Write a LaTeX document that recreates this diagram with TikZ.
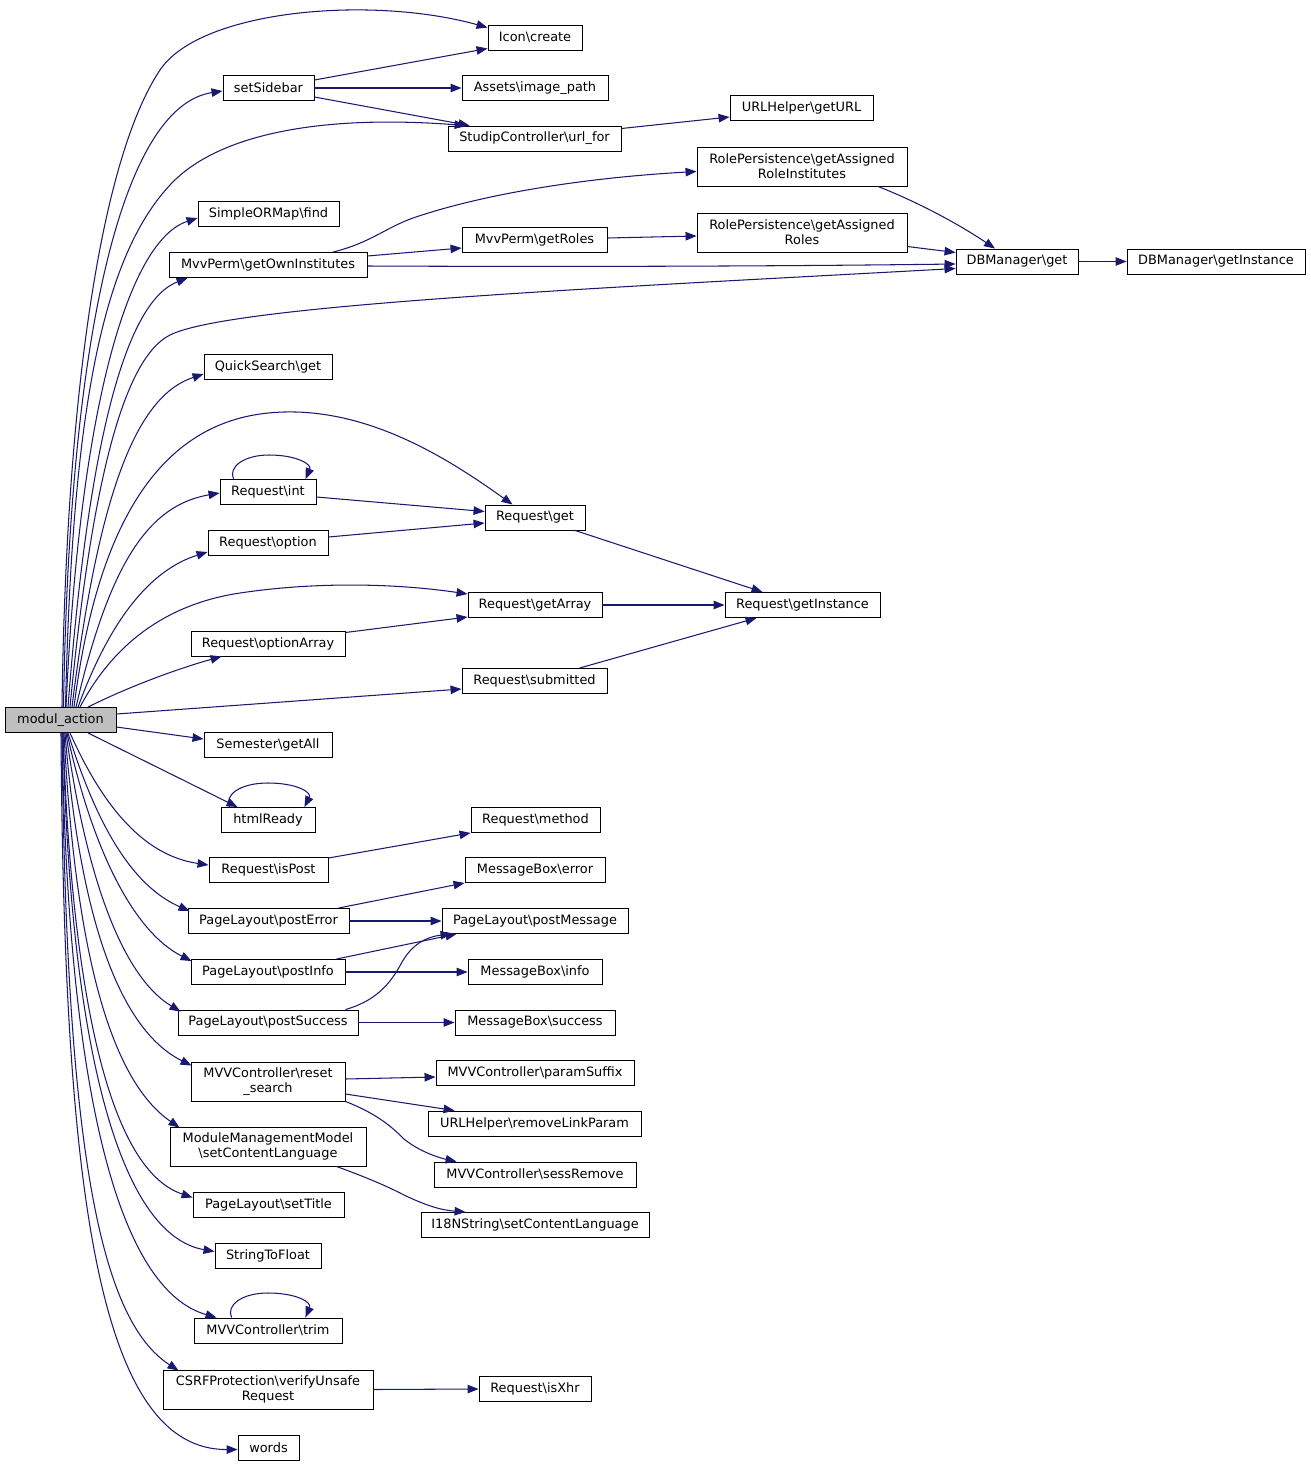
\documentclass[tikz,border=0pt]{standalone}
\usepackage{fontspec}
\setmainfont{DejaVu Sans}
\usetikzlibrary{arrows.meta}
\definecolor{edgeblue}{HTML}{191970}
\definecolor{rootgray}{HTML}{BFBFBF}
\newcommand{\bsx}{\textbackslash}
\begin{document}
\begin{tikzpicture}[x=1pt,y=-1pt,
  box/.style={draw=black, line width=0.9pt, fill=white, inner sep=0pt, minimum height=25pt, font=\fontsize{12.9}{15}\selectfont, align=center},
  tall/.style={minimum height=39pt},
  e/.style={draw=edgeblue, line width=1.05pt, -{Triangle[length=11pt,width=8.5pt]}},
]
\useasboundingbox (0,0) rectangle (1311,1467);
% nodes
\node[box, fill=rootgray, minimum width=111pt] (root) at (60.5,720) {modul\_action};
\node[box, minimum width=94pt] (icon) at (535,37.5) {Icon\bsx create};
\node[box, minimum width=91pt] (setsb) at (268.5,88) {setSidebar};
\node[box, minimum width=146pt] (assets) at (535,88) {Assets\bsx image\_path};
\node[box, minimum width=173pt] (urlfor) at (534.5,138.5) {StudipController\bsx url\_for};
\node[box, minimum width=143pt] (geturl) at (801.5,108) {URLHelper\bsx getURL};
\node[box, tall, minimum width=210pt] (rpri) at (802,166.5) {RolePersistence\bsx getAssigned\\RoleInstitutes};
\node[box, minimum width=141pt] (sormfind) at (268.5,214) {SimpleORMap\bsx find};
\node[box, minimum width=145pt] (getroles) at (534.5,240) {MvvPerm\bsx getRoles};
\node[box, tall, minimum width=210pt] (rpr) at (802,232.5) {RolePersistence\bsx getAssigned\\Roles};
\node[box, minimum width=198pt] (goi) at (268,265) {MvvPerm\bsx getOwnInstitutes};
\node[box, minimum width=122pt] (dbget) at (1017,261.5) {DBManager\bsx get};
\node[box, minimum width=178pt] (dbinst) at (1216,261.5) {DBManager\bsx getInstance};
\node[box, minimum width=128pt] (qsget) at (268,367) {QuickSearch\bsx get};
\node[box, minimum width=96pt] (rint) at (268,492) {Request\bsx int};
\node[box, minimum width=100pt] (rget) at (535,517.5) {Request\bsx get};
\node[box, minimum width=120pt] (ropt) at (268,543) {Request\bsx option};
\node[box, minimum width=134pt] (rgetarr) at (535,605) {Request\bsx getArray};
\node[box, minimum width=155pt] (rgetinst) at (802.5,605) {Request\bsx getInstance};
\node[box, minimum width=154pt] (roptarr) at (268,643.5) {Request\bsx optionArray};
\node[box, minimum width=145pt] (rsubm) at (534.5,681) {Request\bsx submitted};
\node[box, minimum width=128pt] (semget) at (268,745) {Semester\bsx getAll};
\node[box, minimum width=94pt] (html) at (268,820) {htmlReady};
\node[box, minimum width=129pt] (rmethod) at (535.5,820) {Request\bsx method};
\node[box, minimum width=119pt] (risPost) at (268.5,870) {Request\bsx isPost};
\node[box, minimum width=140pt] (mberror) at (535,870) {MessageBox\bsx error};
\node[box, minimum width=161pt] (plerr) at (268.5,921) {PageLayout\bsx postError};
\node[box, minimum width=186pt] (plmsg) at (535,921) {PageLayout\bsx postMessage};
\node[box, minimum width=154pt] (plinfo) at (268,972) {PageLayout\bsx postInfo};
\node[box, minimum width=134pt] (mbinfo) at (535,972) {MessageBox\bsx info};
\node[box, minimum width=180pt] (plsucc) at (268,1022.5) {PageLayout\bsx postSuccess};
\node[box, minimum width=160pt] (mbsucc) at (535,1022.5) {MessageBox\bsx success};
\node[box, tall, minimum width=154pt] (reset) at (268,1081.5) {MVVController\bsx reset\\\_search};
\node[box, minimum width=198pt] (paramsfx) at (535,1073) {MVVController\bsx paramSuffix};
\node[box, minimum width=213pt] (removelp) at (534.5,1123.5) {URLHelper\bsx removeLinkParam};
\node[box, tall, minimum width=196pt] (mmm) at (268,1146.5) {ModuleManagementModel\\\bsx setContentLanguage};
\node[box, minimum width=202pt] (sessrm) at (535,1174.5) {MVVController\bsx sessRemove};
\node[box, minimum width=151pt] (settitle) at (268.5,1204.5) {PageLayout\bsx setTitle};
\node[box, minimum width=228pt] (i18n) at (535,1225) {I18NString\bsx setContentLanguage};
\node[box, minimum width=106pt] (s2f) at (268,1255.5) {StringToFloat};
\node[box, minimum width=148pt] (trim) at (268,1330.5) {MVVController\bsx trim};
\node[box, tall, minimum width=210pt] (csrf) at (268,1389.5) {CSRFProtection\bsx verifyUnsafe\\Request};
\node[box, minimum width=112pt] (isxhr) at (535,1389) {Request\bsx isXhr};
\node[box, minimum width=61pt] (words) at (268.5,1447.5) {words};
% edges from root, upward
\draw[e] ([shift={(1.5,0)}]root.north) .. controls (66,400) and (100,160) .. (160,70) .. controls (200,10) and (370,-5) .. ([shift={(0,3)}]icon.north west);
\draw[e] ([shift={(3,0)}]root.north) .. controls (70,300) and (130,105) .. ([shift={(0,3)}]setsb.west);
\draw[e] ([shift={(5,0)}]root.north) .. controls (72,420) and (100,260) .. (170,185) .. controls (220,131) and (330,115) .. ([shift={(18,0)}]urlfor.north west);
\draw[e] ([shift={(5.5,0)}]root.north) .. controls (80,400) and (130,240) .. ([shift={(0,4)}]sormfind.west);
\draw[e] ([shift={(7.5,0)}]root.north) .. controls (90,420) and (130,300) .. ([shift={(19,0)}]goi.south west);
\draw[e] ([shift={(9.5,0)}]root.north) .. controls (90,500) and (120,360) .. (170,335) .. controls (230,305) and (600,288) .. ([shift={(0,7)}]dbget.west);
\draw[e] ([shift={(11.5,0)}]root.north) .. controls (100,480) and (140,395) .. ([shift={(0,7)}]qsget.west);
\draw[e] ([shift={(13.5,0)}]root.north) .. controls (95,540) and (150,430) .. (260,414) .. controls (360,400) and (450,460) .. ([shift={(28,0)}]rget.north west);
\draw[e] ([shift={(15.5,0)}]root.north) .. controls (110,560) and (150,505) .. ([shift={(0,1)}]rint.west);
\draw[e] ([shift={(17.5,0)}]root.north) .. controls (110,620) and (150,570) .. ([shift={(0,9)}]ropt.west);
\draw[e] ([shift={(19.5,0)}]root.north) .. controls (110,650) and (160,605) .. (240,593) .. controls (320,581) and (400,584) .. ([shift={(0,-11)}]rgetarr.west);
\draw[e] ([shift={(27.5,0)}]root.north) .. controls (130,686) and (180,668) .. ([shift={(31,0)}]roptarr.south west);
\draw[e] ([shift={(0,-6)}]root.east) -- ([shift={(0,8)}]rsubm.west);
% edges from root, downward
\draw[e] ([shift={(0,7)}]root.east) -- ([shift={(0,-6)}]semget.west);
\draw[e] ([shift={(27.5,0)}]root.south) -- ([shift={(17,0)}]html.north west);
\draw[e] ([shift={(9.5,0)}]root.south) .. controls (100,800) and (140,855) .. ([shift={(0,-5)}]risPost.west);
\draw[e] ([shift={(7.5,0)}]root.south) .. controls (95,820) and (130,885) .. ([shift={(2,3)}]plerr.north west);
\draw[e] ([shift={(6.5,0)}]root.south) .. controls (90,840) and (130,930) .. ([shift={(1,2)}]plinfo.north west);
\draw[e] ([shift={(5.5,0)}]root.south) .. controls (85,870) and (120,975) .. ([shift={(3,2)}]plsucc.north west);
\draw[e] ([shift={(4.5,0)}]root.south) .. controls (80,920) and (120,1030) .. ([shift={(1,4)}]reset.north west);
\draw[e] ([shift={(3.5,0)}]root.south) .. controls (75,950) and (110,1080) .. ([shift={(10,1)}]mmm.north west);
\draw[e] ([shift={(2.5,0)}]root.south) .. controls (72,1000) and (110,1170) .. ([shift={(0,-7)}]settitle.west);
\draw[e] ([shift={(2.5,0)}]root.south) .. controls (70,1050) and (120,1235) .. ([shift={(0,-4)}]s2f.west);
\draw[e] ([shift={(1.5,0)}]root.south) .. controls (68,1100) and (120,1290) .. ([shift={(23,0)}]trim.north west);
\draw[e] ([shift={(1.5,0)}]root.south) .. controls (66,1150) and (100,1320) .. ([shift={(16,1)}]csrf.north west);
\draw[e] ([shift={(0.5,0)}]root.south) .. controls (64,1200) and (100,1450) .. ([shift={(0,2)}]words.west);
% self loops
\draw[e] ([shift={(14,0)}]rint.north west) .. controls (228,467) and (244,455) .. (269,455) .. controls (296,455) and (312,464) .. ([shift={(-11,0)}]rint.north east);
\draw[e] ([shift={(9,0)}]html.north west) .. controls (224,795) and (240,783) .. (268,783) .. controls (296,783) and (312,792) .. ([shift={(-11,0)}]html.north east);
\draw[e] ([shift={(38,0)}]trim.north west) .. controls (226,1305) and (242,1293) .. (268,1293) .. controls (296,1293) and (312,1302) .. ([shift={(-37,0)}]trim.north east);
% other edges
\draw[e] ([shift={(0,-8)}]setsb.east) -- ([shift={(0,11)}]icon.west);
\draw[e] (setsb.east) -- (assets.west);
\draw[e] ([shift={(0,9)}]setsb.east) -- ([shift={(22,0)}]urlfor.north west);
\draw[e] ([shift={(0,-10)}]urlfor.east) -- ([shift={(0,9)}]geturl.west);
\draw[e] ([shift={(65,0)}]goi.north) .. controls (370,243) and (385,228) .. (413,218) .. controls (480,195) and (580,178) .. ([shift={(0,5)}]rpri.west);
\draw[e] ([shift={(0,-9)}]goi.east) -- ([shift={(0,8)}]getroles.west);
\draw[e] ([shift={(0,1)}]goi.east) .. controls (600,267) and (800,266) .. ([shift={(0,2.5)}]dbget.west);
\draw[e] ([shift={(0,-2)}]getroles.east) -- ([shift={(0,3.5)}]rpr.west);
\draw[e] ([shift={(76,0)}]rpri.south) .. controls (920,203) and (960,225) .. ([shift={(-22,0)}]dbget.north);
\draw[e] ([shift={(0,14)}]rpr.east) -- ([shift={(0,-9)}]dbget.west);
\draw[e] (dbget.east) -- (dbinst.west);
\draw[e] ([shift={(0,5)}]rint.east) -- ([shift={(0,-6)}]rget.west);
\draw[e] ([shift={(0,-6)}]ropt.east) -- ([shift={(0,5.5)}]rget.west);
\draw[e] ([shift={(40,0)}]rget.south) -- ([shift={(38,0)}]rgetinst.north west);
\draw[e] (rgetarr.east) -- (rgetinst.west);
\draw[e] ([shift={(0,-11)}]roptarr.east) -- ([shift={(0,12)}]rgetarr.west);
\draw[e] ([shift={(45,0)}]rsubm.north) -- ([shift={(32,0)}]rgetinst.south west);
\draw[e] ([shift={(0,-12)}]risPost.east) -- (rmethod.south west);
\draw[e] ([shift={(-11,0)}]plerr.north east) -- (mberror.south west);
\draw[e] (plerr.east) -- (plmsg.west);
\draw[e] ([shift={(-9,0)}]plinfo.north east) -- ([shift={(15,0)}]plmsg.south west);
\draw[e] (plinfo.east) -- (mbinfo.west);
\draw[e] ([shift={(-13,0)}]plsucc.north east) .. controls (375,1001) and (390,985) .. (402,962) .. controls (412,945) and (425,937) .. ([shift={(10,0)}]plmsg.south west);
\draw[e] (plsucc.east) -- (mbsucc.west);
\draw[e] ([shift={(0,-2.5)}]reset.east) -- ([shift={(0,4)}]paramsfx.west);
\draw[e] ([shift={(0,12.5)}]reset.east) -- ([shift={(27,0)}]removelp.north west);
\draw[e] (reset.south east) .. controls (375,1113) and (390,1125) .. (404,1139) .. controls (420,1152) and (440,1158) .. ([shift={(23,0)}]sessrm.north west);
\draw[e] ([shift={(-30,0)}]mmm.south east) .. controls (360,1175) and (385,1185) .. (404,1195) .. controls (425,1205) and (440,1210) .. ([shift={(45,0)}]i18n.north west);
\draw[e] (csrf.east) -- (isxhr.west);
\end{tikzpicture}
\end{document}
